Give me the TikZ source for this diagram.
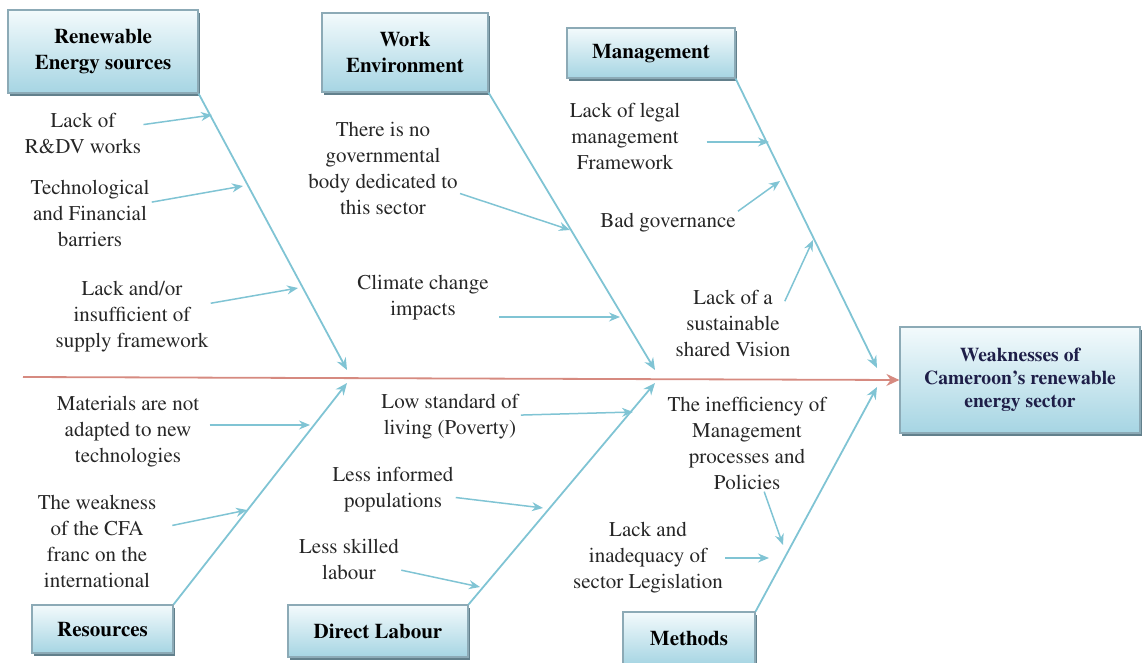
\documentclass[tikz,border=0pt]{standalone}
\usepackage[T1]{fontenc}
\usepackage{times}
\usetikzlibrary{arrows.meta,shadows}
\definecolor{boxtop}{RGB}{243,250,252}
\definecolor{boxbot}{RGB}{166,213,227}
\definecolor{boxline}{RGB}{140,170,182}
\definecolor{boxshadow}{RGB}{98,128,140}
\definecolor{bonecol}{RGB}{128,196,212}
\definecolor{spinecol}{RGB}{214,138,128}
\definecolor{headtext}{RGB}{30,30,72}
\tikzset{
  head/.style={
    % The shape:
    shape=rectangle,
    % The border:
    draw=boxline,line width=0.6pt,
    % The filling:
    top color=boxtop, % almost white at the top...
    bottom color=boxbot, % and light blue at the bottom
    % The shadow:
    drop shadow={shadow xshift=1.2pt,shadow yshift=-1.5pt,fill=boxshadow,opacity=1},
    align=center,font=\bfseries\fontsize{10.5}{13}\selectfont}}
\tikzset{
  cause/.style={
    align=center,inner sep=1pt,text=black!85,
    font=\fontsize{10.5}{13}\selectfont}}
\tikzset{
  bone/.style={draw=bonecol,line width=0.9pt,-{Stealth[length=6pt,width=5pt]}},
  twig/.style={draw=bonecol,line width=0.75pt,-{Stealth[length=5.5pt,width=4.5pt]}}}

\begin{document}
\begin{tikzpicture}[x=0.5pt,y=-0.5pt]
	\useasboundingbox (0,0) rectangle (1145,663);
	% Heads of the bones
	\node[head,minimum width=95pt,minimum height=41.5pt] (ren) at (103,51.5) {Renewable\\Energy sources};
	\node[head,minimum width=83pt,minimum height=39.5pt] (work) at (405,52.5) {Work\\Environment};
	\node[head,minimum width=84pt,minimum height=25pt] (mgmt) at (651,53) {Management};
	\node[head,minimum width=70.5pt,minimum height=24pt] (res) at (102.5,629) {Resources};
	\node[head,minimum width=90pt,minimum height=26pt] (lab) at (378,631) {Direct Labour};
	\node[head,minimum width=66pt,minimum height=26.5pt] (meth) at (689,638.5) {Methods};
	% The effect
	\node[head,text=headtext,minimum width=120pt,minimum height=53pt,
		font=\bfseries\fontsize{9.8}{11.4}\selectfont] (eff) at (1020,380)
		{Weaknesses of\\Cameroon's renewable\\energy sector};
	% Where the bones meet the spine
	\coordinate (renT) at (347,370);
	\coordinate (resT) at (347,383);
	\coordinate (workT) at (655,370);
	\coordinate (labT) at (655,383);
	\coordinate (mgmtT) at (877,368);
	\coordinate (methT) at (877,387);
	\coordinate (tail) at (23,377);
	% The spine
	\draw[spinecol,line width=0.9pt,-{Stealth[length=6.5pt,width=6pt]}] (tail) -- (eff.west);
	% The bones
	\draw[bone] (ren.south east) -- (renT);
	\draw[bone] (res.north east) -- (resT);
	\draw[bone] (work.south east) -- (workT);
	\draw[bone] (lab.north east) -- (labT);
	\draw[bone] (mgmt.south east) -- (mgmtT);
	\draw[bone] (meth.north east) -- (methT);
	% Causes on the upper side
	\node[cause] (c1) at (83,133) {Lack of\\R\&DV works};
	\node[cause] (c2) at (90,213) {Technological\\and Financial\\barriers};
	\node[cause] (c3) at (132,317) {Lack and/or\\insufficient of\\supply framework};
	\node[cause] (c4) at (383,168) {There is no\\governmental\\body dedicated to\\this sector};
	\node[cause] (c5) at (423,298) {Climate change\\impacts};
	\node[cause] (c6) at (625,136) {Lack of legal\\management\\Framework};
	\node[cause] (c7) at (668,223) {Bad governance};
	\node[cause] (c8) at (733,323) {Lack of a\\sustainable\\shared Vision};
	% Causes on the lower side
	\node[cause] (c9) at (128,432) {Materials are not\\adapted to new\\technologies};
	\node[cause] (c10) at (97,541) {The weakness\\of the CFA\\franc on the\\international};
	\node[cause] (c11) at (450,417) {Low standard of\\living (Poverty)};
	\node[cause] (c12) at (393,490) {Less informed\\populations};
	\node[cause] (c13) at (349,559) {Less skilled\\labour};
	\node[cause] (c14) at (747,443) {The inefficiency of\\Management\\processes and\\Policies};
	\node[cause] (c15) at (648,558) {Lack and\\inadequacy of\\sector Legislation};
	% Tips of the twigs
	\coordinate (a1) at (212,115);
	\coordinate (a2) at (243,186);
	\coordinate (a3) at (298,288);
	\coordinate (a4) at (570,230);
	\coordinate (a5) at (620,317);
	\coordinate (a6) at (769,142);
	\coordinate (a7) at (780,181);
	\coordinate (a8) at (813,240);
	\coordinate (a9) at (310,425);
	\coordinate (a10) at (247,510);
	\coordinate (a11) at (633,412);
	\coordinate (a12) at (543,508);
	\coordinate (a13) at (480,587);
	\coordinate (a14) at (783,545);
	\coordinate (a15) at (769,558);
	% Twigs into the bones
	\draw[twig] (c1) -- (a1);
	\draw[twig] (c2) -- (a2);
	\draw[twig] (c3) -- (a3);
	\draw[twig] (c4) -- (a4);
	\draw[twig,shorten <=4pt] (c5.east |- a5) -- (a5);
	\draw[twig,shorten <=12pt] (c6.east |- a6) -- (a6);
	\draw[twig] (c7.north east) -- (a7);
	\draw[twig] ([xshift=-4pt]c8.20) -- (a8);
	\draw[twig,shorten <=4pt] (c9.east |- a9) -- (a9);
	\draw[twig,shorten <=7pt] (c10) -- (a10);
	\draw[twig] (c11) -- (a11);
	\draw[twig] (c12) -- (a12);
	\draw[twig] (c13) -- (a13);
	\draw[twig] (c14) -- (a14);
	\draw[twig] (c15.east |- a15) -- (a15);
\end{tikzpicture}
\end{document}
